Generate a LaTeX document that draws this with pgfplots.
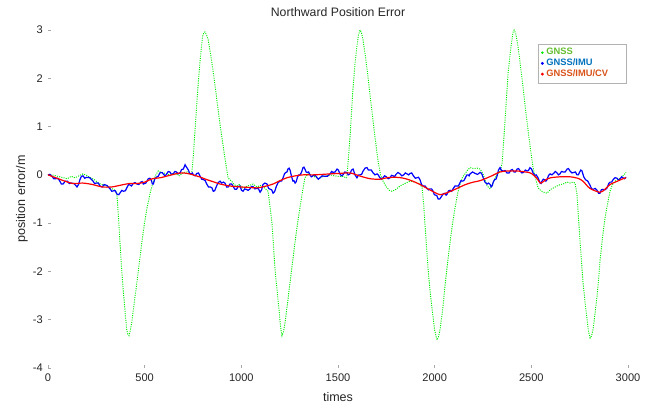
\documentclass[border=0pt]{standalone}
\usepackage{fontspec}
\setmainfont{Liberation Sans}
\usepackage{pgfplots}
\pgfplotsset{compat=1.18}
\definecolor{gtxt}{RGB}{100,190,45}
\definecolor{btxt}{RGB}{0,114,189}
\definecolor{otxt}{RGB}{217,83,25}
\definecolor{ggreen}{RGB}{0,235,0}
\begin{document}
\begin{tikzpicture}
\begin{axis}[name=ax,
  scale only axis, width=435pt, height=253.5pt,
  xmin=0, xmax=3000, ymin=-4, ymax=3,
  xtick={0,500,...,3000}, ytick={-4,-3,...,3},
  axis line style={draw=none},
  tick align=inside, xtick pos=lower, ytick pos=left,
  major tick length=2.25pt,
  tick style={gray!70, line width=0.5pt},
  /pgf/number format/assume math mode=true,
  /pgf/number format/1000 sep={},
  ticklabel style={font=\fontsize{8.3}{9}\selectfont, text=black!85},
  xticklabel style={anchor=center, yshift=-7pt},
  yticklabel style={anchor=east, inner sep=0pt, xshift=-3.75pt},
  clip=false,
  legend cell align=left,
  legend style={at={(rel axis cs:0.845,0.96)}, anchor=north west,
    draw=gray!60, line width=0.4pt, font=\fontsize{7}{8}\selectfont\bfseries,
    inner xsep=2pt, inner ysep=1.5pt, row sep=-2.5pt},
  legend image code/.code={\fill[#1,solid] (0.05cm,0cm) circle (0.55pt);},
]
\addplot[ggreen, line width=0.7pt, dash pattern=on 0.8pt off 0.9pt] coordinates {
(0,0)(20,0.0)(40,-0.02)(60,-0.04)(80,-0.06)(100,-0.08)(120,-0.03)(140,-0.06)(160,-0.02)(181,0.02)
(200,-0.01)(220,-0.06)(240,-0.1)(260,-0.17)(280,-0.2)(300,-0.22)(320,-0.27)(340,-0.3)(350,-0.33)
(357,-0.44)(365,-0.9)(372,-1.38)(380,-1.9)(390,-2.43)(400,-2.9)(407,-3.2)(413,-3.3)(419,-3.33)
(426,-3.22)(433,-3.06)(446,-2.65)(460,-2.22)(473,-1.8)(486,-1.38)(499,-1.0)(512,-0.69)(528,-0.38)
(545,-0.13)(558,0.0)(570,0.08)(585,0.05)(600,0.04)(620,0.0)(640,0.03)(660,0.02)(680,-0.02)(700,0.05)
(720,0.06)(735,0.02)(743,0.0)(752,0.4)(760,0.9)(770,1.49)(778,1.95)(786,2.33)(793,2.62)(800,2.87)
(806,2.95)(812,2.96)(820,2.9)(828,2.81)(841,2.5)(855,2.12)(868,1.72)(880,1.34)(893,0.95)(907,0.57)
(919,0.25)(931,-0.06)(940,-0.1)(950,-0.13)(962,-0.2)(976,-0.23)(990,-0.2)(1005,-0.27)(1020,-0.25)
(1040,-0.22)(1061,-0.19)(1080,-0.25)(1100,-0.22)(1120,-0.27)(1138,-0.34)(1148,-0.65)(1159,-1.03)
(1167,-1.5)(1174,-1.95)(1185,-2.4)(1195,-2.79)(1203,-3.15)(1210,-3.33)(1218,-3.25)(1226,-3.06)
(1239,-2.65)(1252,-2.22)(1265,-1.8)(1278,-1.38)(1290,-1.02)(1303,-0.69)(1316,-0.35)(1329,-0.06)
(1345,0.02)(1360,0.0)(1380,-0.04)(1400,-0.08)(1420,-0.04)(1440,-0.02)(1460,0.0)(1480,-0.02)(1500,-0.03)
(1520,-0.03)(1536,-0.05)(1545,-0.06)(1553,0.3)(1562,0.78)(1570,1.3)(1578,1.82)(1588,2.3)(1598,2.66)
(1606,2.9)(1614,3.0)(1621,2.95)(1629,2.81)(1642,2.45)(1655,2.03)(1668,1.58)(1681,1.13)(1694,0.7)
(1707,0.29)(1720,0.0)(1733,-0.13)(1750,-0.25)(1765,-0.32)(1779,-0.34)(1800,-0.3)(1821,-0.23)
(1845,-0.18)(1873,-0.13)(1900,-0.15)(1924,-0.19)(1935,-0.27)(1943,-0.6)(1950,-1.03)(1958,-1.5)
(1966,-1.95)(1976,-2.4)(1987,-2.79)(1999,-3.2)(2012,-3.42)(2020,-3.35)(2028,-3.2)(2041,-2.8)
(2054,-2.29)(2067,-1.82)(2080,-1.38)(2093,-1.0)(2105,-0.69)(2118,-0.4)(2131,-0.19)(2144,-0.05)
(2157,0.02)(2170,0.1)(2183,0.15)(2200,0.13)(2220,0.14)(2235,0.12)(2250,0.02)(2262,-0.12)(2271,-0.23)
(2287,-0.29)(2300,-0.18)(2312,-0.06)(2330,0.05)(2340,0.08)(2349,0.25)(2357,0.7)(2364,1.13)(2372,1.62)
(2380,2.12)(2390,2.5)(2400,2.81)(2406,2.97)(2411,3.0)(2420,2.92)(2431,2.66)(2444,2.25)(2457,1.82)
(2470,1.36)(2483,0.92)(2496,0.52)(2509,0.15)(2522,-0.08)(2535,-0.27)(2550,-0.33)(2565,-0.36)
(2581,-0.38)(2600,-0.3)(2615,-0.27)(2633,-0.23)(2650,-0.2)(2664,-0.19)(2685,-0.15)(2700,-0.17)
(2715,-0.15)(2726,-0.17)(2736,-0.4)(2744,-0.9)(2752,-1.38)(2760,-1.82)(2767,-2.22)(2778,-2.65)
(2788,-2.99)(2796,-3.25)(2804,-3.38)(2812,-3.33)(2819,-3.2)(2830,-2.85)(2840,-2.5)(2848,-2.15)
(2855,-1.8)(2868,-1.3)(2881,-0.9)(2894,-0.6)(2907,-0.34)(2920,-0.2)(2933,-0.13)(2955,-0.08)
(2974,-0.02)(2990,0.05)
};
\addlegendentry{\textcolor{gtxt}{GNSS}}
\addplot[blue, line width=0.9pt] coordinates {
(0,0)(10,0.01)(20,-0.03)(30,-0.08)(40,-0.08)(50,-0.07)(60,-0.12)(69,-0.19)(78,-0.19)(89,-0.13)
(100,-0.13)(110,-0.18)(120,-0.17)(135,-0.18)(150,-0.25)(158,-0.2)(165,-0.1)(173,-0.03)(181,-0.02)
(190,-0.07)(200,-0.05)(216,-0.06)(233,-0.13)(241,-0.18)(250,-0.17)(260,-0.17)(269,-0.23)(280,-0.25)
(290,-0.2)(305,-0.22)(321,-0.29)(330,-0.34)(340,-0.33)(348,-0.33)(357,-0.4)(366,-0.41)(375,-0.36)
(382,-0.32)(390,-0.34)(400,-0.33)(410,-0.25)(417,-0.2)(424,-0.21)(432,-0.23)(440,-0.18)(450,-0.16)
(460,-0.19)(470,-0.2)(480,-0.15)(487,-0.14)(493,-0.19)(506,-0.17)(519,-0.08)(527,-0.07)(535,-0.12)
(540,-0.19)(545,-0.19)(552,-0.09)(560,-0.05)(570,-0.03)(579,0.04)(590,0.05)(600,0.0)(607,-0.02)
(614,0.02)(622,0.07)(630,0.06)(639,0.01)(648,0.02)(656,0.07)(665,0.06)(674,0.02)(683,0.04)(691,0.11)
(700,0.12)(709,0.21)(718,0.15)(726,0.1)(733,0.03)(740,0.02)(746,0.04)(752,0.0)(761,-0.02)(770,0.03)
(778,0.04)(786,-0.02)(795,-0.09)(805,-0.1)(813,-0.12)(821,-0.19)(830,-0.25)(840,-0.25)(848,-0.27)
(855,-0.34)(862,-0.33)(870,-0.25)(880,-0.16)(890,-0.13)(898,-0.17)(907,-0.15)(915,-0.17)(924,-0.25)
(932,-0.25)(941,-0.19)(950,-0.19)(959,-0.25)(967,-0.3)(975,-0.3)(984,-0.24)(993,-0.23)(1001,-0.32)
(1009,-0.34)(1017,-0.29)(1025,-0.3)(1035,-0.32)(1045,-0.29)(1052,-0.24)(1060,-0.24)(1070,-0.29)
(1081,-0.28)(1089,-0.29)(1097,-0.36)(1105,-0.31)(1112,-0.2)(1122,-0.17)(1133,-0.19)(1141,-0.28)
(1150,-0.3)(1157,-0.31)(1164,-0.38)(1172,-0.35)(1180,-0.25)(1190,-0.16)(1200,-0.13)(1208,-0.13)
(1216,-0.06)(1223,0.02)(1230,0.05)(1236,0.06)(1241,0.12)(1247,0.14)(1252,0.1)(1260,-0.04)(1267,-0.13)
(1272,-0.12)(1278,-0.17)(1284,-0.14)(1290,-0.05)(1297,0.0)(1303,0.0)(1311,0.05)(1319,0.15)(1324,0.16)
(1329,0.12)(1335,0.06)(1340,0.05)(1348,0.06)(1355,0.0)(1362,-0.04)(1370,-0.02)(1380,0.0)(1390,-0.05)
(1398,-0.09)(1407,-0.06)(1418,-0.02)(1430,-0.03)(1445,-0.03)(1459,0.02)(1467,0.07)(1475,0.05)
(1485,0.06)(1495,0.12)(1502,0.1)(1510,0.02)(1518,-0.02)(1526,0.0)(1535,0.06)(1545,0.05)(1553,0.0)
(1562,0.02)(1570,0.1)(1578,0.12)(1588,0.0)(1598,-0.06)(1606,0.0)(1614,0.0)(1622,0.01)(1630,0.08)
(1640,0.14)(1650,0.15)(1657,0.1)(1665,0.1)(1672,0.1)(1680,0.05)(1691,0.0)(1702,0.02)(1708,0.0)
(1715,-0.05)(1724,-0.09)(1733,-0.06)(1741,-0.02)(1750,-0.04)(1760,-0.08)(1769,-0.06)(1777,-0.01)
(1785,-0.02)(1792,-0.04)(1800,0.01)(1810,0.05)(1821,0.02)(1830,-0.02)(1840,0.0)(1848,0.04)(1857,0.02)
(1865,0.0)(1873,0.03)(1881,0.04)(1890,-0.02)(1900,-0.07)(1909,-0.06)(1916,-0.05)(1924,-0.1)(1932,-0.2)
(1940,-0.23)(1950,-0.23)(1960,-0.28)(1968,-0.31)(1976,-0.29)(1984,-0.29)(1992,-0.34)(1998,-0.41)
(2005,-0.42)(2011,-0.43)(2018,-0.5)(2026,-0.5)(2035,-0.45)(2045,-0.39)(2054,-0.38)(2059,-0.42)
(2064,-0.4)(2072,-0.33)(2080,-0.32)(2088,-0.34)(2095,-0.29)(2105,-0.23)(2116,-0.23)(2123,-0.23)
(2130,-0.17)(2136,-0.12)(2142,-0.13)(2151,-0.12)(2160,-0.05)(2167,0.0)(2173,0.0)(2178,-0.02)(2183,0.02)
(2196,0.06)(2209,0.03)(2222,0.01)(2235,0.05)(2243,0.03)(2250,-0.05)(2260,-0.15)(2271,-0.19)(2279,-0.17)
(2287,-0.2)(2292,-0.25)(2297,-0.23)(2304,-0.14)(2310,-0.1)(2317,-0.09)(2323,-0.02)(2330,0.1)(2338,0.15)
(2346,0.09)(2355,0.08)(2364,0.09)(2374,0.04)(2385,0.04)(2395,0.1)(2402,0.11)(2410,0.06)(2418,0.06)
(2426,0.12)(2434,0.13)(2442,0.08)(2451,0.04)(2460,0.05)(2469,0.1)(2478,0.08)(2485,0.09)(2493,0.15)
(2501,0.12)(2509,0.04)(2517,-0.01)(2525,0.0)(2535,-0.06)(2545,-0.17)(2550,-0.18)(2555,-0.13)(2562,-0.09)
(2568,-0.1)(2575,-0.13)(2581,-0.1)(2589,-0.01)(2597,0.02)(2606,0.0)(2615,0.03)(2624,0.07)(2633,0.04)
(2640,0.0)(2648,0.02)(2656,0.07)(2665,0.06)(2675,0.06)(2685,0.12)(2692,0.13)(2700,0.08)(2710,0.04)
(2720,0.05)(2728,0.06)(2736,0.0)(2743,0.0)(2750,0.06)(2756,0.1)(2762,0.08)(2771,-0.04)(2780,-0.1)
(2792,-0.13)(2804,-0.22)(2812,-0.29)(2820,-0.3)(2830,-0.28)(2840,-0.32)(2848,-0.38)(2855,-0.38)
(2862,-0.31)(2870,-0.3)(2881,-0.31)(2892,-0.27)(2900,-0.18)(2907,-0.15)(2915,-0.15)(2923,-0.1)
(2933,-0.06)(2943,-0.07)(2952,-0.11)(2960,-0.08)(2967,-0.04)(2974,-0.06)(2982,-0.08)(2990,-0.05)
};
\addlegendentry{\textcolor{btxt}{GNSS/IMU}}
\addplot[red, line width=0.9pt, smooth] coordinates {
(0,0)(40,-0.06)(80,-0.12)(130,-0.18)(180,-0.17)(230,-0.2)(280,-0.25)(330,-0.25)(380,-0.21)(420,-0.18)
(460,-0.18)(500,-0.15)(540,-0.08)(580,-0.06)(630,-0.01)(683,0.04)(720,0.03)(750,0.0)(790,-0.05)
(822,-0.1)(860,-0.15)(890,-0.19)(940,-0.23)(993,-0.25)(1040,-0.26)(1081,-0.27)(1120,-0.24)(1164,-0.19)
(1200,-0.12)(1236,-0.06)(1280,-0.02)(1319,0)(1371,0)(1420,0.01)(1459,0.02)(1510,0.03)(1562,0.04)
(1610,-0.02)(1666,-0.08)(1717,-0.09)(1753,-0.06)(1800,-0.05)(1840,-0.07)(1880,-0.12)(1924,-0.2)
(1970,-0.3)(2028,-0.41)(2070,-0.36)(2116,-0.28)(2160,-0.2)(2200,-0.15)(2235,-0.12)(2290,-0.03)
(2338,0.06)(2380,0.08)(2426,0.08)(2470,0.06)(2500,0.03)(2530,-0.08)(2548,-0.17)(2575,-0.1)(2600,-0.06)
(2650,-0.04)(2700,-0.04)(2740,-0.07)(2767,-0.13)(2803,-0.28)(2855,-0.36)(2880,-0.3)(2907,-0.2)
(2940,-0.14)(2974,-0.08)(2990,-0.06)
};
\addlegendentry{\textcolor{otxt}{GNSS/IMU/CV}\rule{10pt}{0pt}}
\node[font=\fontsize{9.2}{10}\selectfont, text=black!85] at (rel axis cs:0.5,1) [yshift=13.5pt] {Northward Position Error};
\node[font=\fontsize{9.4}{10}\selectfont, text=black!85] at (rel axis cs:0.5,0) [yshift=-21.75pt] {times};
\node[font=\fontsize{9.4}{10}\selectfont, text=black!85, xshift=-19.5pt, rotate=90] at (rel axis cs:0,0.5) {position error/m};
\end{axis}
\pgfresetboundingbox
\path[use as bounding box] ([xshift=-36pt,yshift=-26.25pt]ax.south west) rectangle ([xshift=17.25pt,yshift=22.5pt]ax.north east);
\end{tikzpicture}
\end{document}
